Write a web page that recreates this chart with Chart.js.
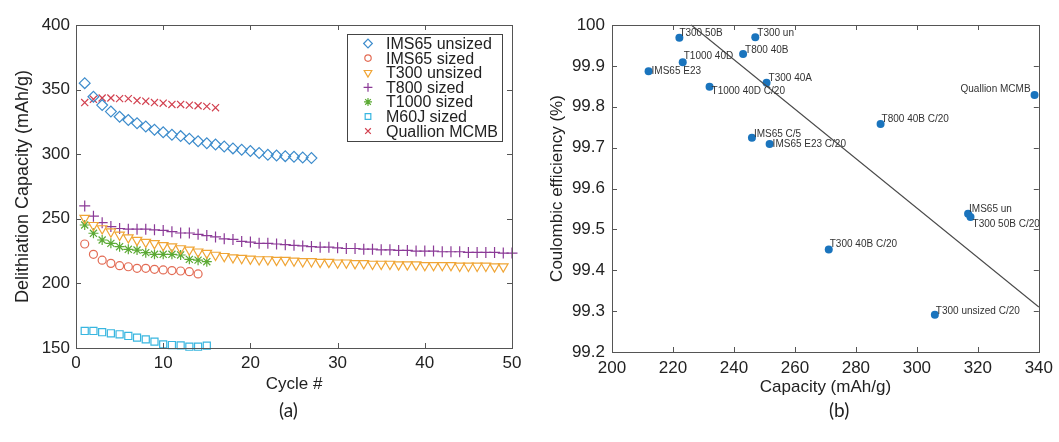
<!DOCTYPE html>
<html>
<head>
<meta charset="utf-8">
<script src="https://cdn.jsdelivr.net/npm/chart.js@4.4.1/dist/chart.umd.min.js"></script>
<style>
  html, body { margin: 0; padding: 0; background: #fff; }
  #wrap { position: relative; width: 1059px; height: 442px; overflow: hidden; }
  #c1 { position: absolute; left: 0; top: 0; }
  #c2 { position: absolute; left: 530px; top: 0; }
  .cap { position: absolute; top: 398px; font-family: Lato, "Open Sans", sans-serif; font-size: 19px; color: #222; }
</style>
</head>
<body>
<div id="wrap">
  <canvas id="c1" width="530" height="442"></canvas>
  <canvas id="c2" width="529" height="442"></canvas>
  <div class="cap" style="left:279px">(a)</div>
  <div class="cap" style="left:829px">(b)</div>
</div>
<script>
// ---------- Panel (a) data ----------
const cycleNumbers = [1,2,3,4,5,6,7,8,9,10,11,12,13,14,15,16,17,18,19,20,21,22,23,24,25,
  26,27,28,29,30,31,32,33,34,35,36,37,38,39,40,41,42,43,44,45,46,47,48,49,50];
const ims65Unsized = [355, 344.5, 338, 333, 329, 326.5, 324, 321.5, 319, 317, 315, 314, 312, 310, 308.5,
  307.5, 306, 304.5, 303.5, 302.5, 301, 299.5, 299, 298.5, 298, 297.5, 297];
const ims65Sized = [230.5, 222.5, 218, 215.5, 213.7, 212.9, 211.7, 211.7, 210.9, 210.4, 209.9, 209.6, 209.1, 207.3];
const t300Unsized = [250.5, 245, 242.5, 240, 237.5, 235.5, 233.5, 232, 231, 229.5, 228.5, 227, 226, 224.5, 223.5,
  222, 221, 220, 219.5, 219, 218.5, 218.5, 218, 218, 217.5, 217, 217, 216.5, 216.5, 216, 216, 215.5, 215.5,
  215, 215, 215, 214.5, 214.5, 214.5, 214, 214, 214, 214, 213.5, 213.5, 213.5, 213.5, 213, 213];
const t800Sized = [260, 252, 247, 244, 242.5, 242, 242, 242, 241.5, 241, 240, 239, 239, 238, 237, 236, 234.5,
  234, 232.5, 232, 231, 231, 230.5, 230, 229.5, 229, 228.5, 228, 228, 227.5, 227, 227, 226.5, 226.5, 226, 226,
  225.5, 225.5, 225, 225, 225, 224.5, 224.5, 224.5, 224, 224, 224, 224, 223.5, 223.5];
const t1000Sized = [245.2, 238.8, 233.6, 231, 228.4, 226.4, 225.8, 223.8, 222.5, 222.5, 222.5, 222, 218.6, 218, 216.8];
const m60jSized = [163.2, 163.2, 162.2, 161.4, 160.6, 159.3, 158, 156.7, 154.9, 152.8, 152.3, 152, 151, 151, 151.8];
const quallionMCMB = [340, 342.5, 343.5, 343.5, 343, 343, 341.5, 341, 340, 339.5, 338.5, 338.5, 338, 337.5, 337, 336];
const seriesNamesA = ["IMS65 unsized", "IMS65 sized", "T300 unsized", "T800 sized", "T1000 sized", "M60J sized", "Quallion MCMB"];
const xTicksA = [0, 10, 20, 30, 40, 50];
const yTicksA = [150, 200, 250, 300, 350, 400];

// ---------- Panel (b) data ----------
const pointNames = ["T300 50B", "T300 un", "T800 40B", "T1000 40D", "IMS65 E23", "T1000 40D C/20", "T300 40A",
  "IMS65 C/5", "IMS65 E23 C/20", "T800 40B C/20", "Quallion MCMB", "IMS65 un", "T300 50B C/20",
  "T300 40B C/20", "T300 unsized C/20"];
const capacity = [222.1, 247, 243, 223.2, 212, 232, 250.7, 245.9, 251.7, 288.1, 338.6, 316.8, 317.6, 271.1, 305.9];
const efficiency = [99.969, 99.97, 99.929, 99.909, 99.887, 99.849, 99.859, 99.724, 99.709, 99.758, 99.829, 99.538, 99.530, 99.451, 99.291];
const trendX = [226, 340];
const trendY = [100.0, 99.31];
const xTicksB = [200, 220, 240, 260, 280, 300, 320, 340];
const yTicksB = [99.2, 99.3, 99.4, 99.5, 99.6, 99.7, 99.8, 99.9, 100];

// ---------- styles ----------
const FONT = '"Liberation Sans", Arial, sans-serif';
const styleA = [
  { color: '#3d8ccc', pointStyle: 'rectRot', radius: 5.4, rotation: 0 },
  { color: '#e36c55', pointStyle: 'circle', radius: 4, rotation: 0 },
  { color: '#f0a535', pointStyle: 'triangle', radius: 5.5, rotation: 180 },
  { color: '#8b3a97', pointStyle: 'cross', radius: 5.5, rotation: 0 },
  { color: '#5caa35', pointStyle: 'star', radius: 5, rotation: 0 },
  { color: '#38b6e0', pointStyle: 'rect', radius: 5, rotation: 0 },
  { color: '#d2404f', pointStyle: 'crossRot', radius: 5, rotation: 0 }
];
// label offsets (dx, dy, align) for point annotations in panel (b)
const labelPlacement = {
  "T300 50B": [0, -4, 'left'], "T300 un": [2, -4, 'left'], "T800 40B": [2, -4, 'left'],
  "T1000 40D": [1, -6, 'left'], "IMS65 E23": [3, 0, 'left'], "T1000 40D C/20": [2, 5, 'left'],
  "T300 40A": [2, -4, 'left'], "IMS65 C/5": [2, -4, 'left'], "IMS65 E23 C/20": [3, 0, 'left'],
  "T800 40B C/20": [1, -5, 'left'], "Quallion MCMB": [-4, -6, 'right'], "IMS65 un": [1, -5, 'left'],
  "T300 50B C/20": [2, 7, 'left'], "T300 40B C/20": [1, -5, 'left'], "T300 unsized C/20": [1, -4, 'left']
};

function frameTicks(tickValsX, tickValsY, len) {
  return {
    id: 'frameTicks',
    afterDatasetsDraw(chart) {
      const { ctx, chartArea: a, scales } = chart;
      const xs = scales.x, ys = scales.y;
      ctx.save();
      ctx.strokeStyle = '#555';
      ctx.lineWidth = 1;
      ctx.beginPath();
      tickValsX.forEach(v => {
        const px = Math.round(xs.getPixelForValue(v)) + 0.5;
        ctx.moveTo(px, a.bottom); ctx.lineTo(px, a.bottom - len);
        ctx.moveTo(px, a.top); ctx.lineTo(px, a.top + len);
      });
      tickValsY.forEach(v => {
        const py = Math.round(ys.getPixelForValue(v)) + 0.5;
        ctx.moveTo(a.left, py); ctx.lineTo(a.left + len, py);
        ctx.moveTo(a.right, py); ctx.lineTo(a.right - len, py);
      });
      ctx.stroke();
      ctx.strokeRect(Math.round(a.left) + 0.5, Math.round(a.top) + 0.5, Math.round(a.right - a.left), Math.round(a.bottom - a.top));
      ctx.restore();
    }
  };
}

const legendA = {
  id: 'legendA',
  afterDraw(chart) {
    const { ctx } = chart;
    const bx = 347, by = 34, bw = 155, bh = 107;
    ctx.save();
    ctx.fillStyle = '#fff';
    ctx.fillRect(bx, by, bw, bh);
    ctx.strokeStyle = '#444';
    ctx.lineWidth = 1;
    ctx.strokeRect(bx + 0.5, by + 0.5, bw, bh);
    ctx.font = '16px ' + FONT;
    ctx.textBaseline = 'middle';
    ctx.textAlign = 'left';
    seriesNamesA.forEach((name, i) => {
      const y = 43.5 + i * 14.6;
      const s = styleA[i];
      ctx.strokeStyle = s.color;
      ctx.fillStyle = 'rgba(0,0,0,0)';
      ctx.lineWidth = 1.2;
      Chart.helpers.drawPoint(ctx, { pointStyle: s.pointStyle, radius: s.radius * 0.8, rotation: s.rotation, borderWidth: 1.2 }, 368, y);
      ctx.fillStyle = '#222';
      ctx.fillText(name, 386, y + 1);
    });
    ctx.restore();
  }
};

const pointLabels = {
  id: 'pointLabels',
  afterDatasetsDraw(chart) {
    const { ctx, scales } = chart;
    ctx.save();
    ctx.font = '10px ' + FONT;
    ctx.fillStyle = '#333';
    ctx.textBaseline = 'middle';
    pointNames.forEach((name, i) => {
      const p = labelPlacement[name];
      const px = scales.x.getPixelForValue(capacity[i]);
      const py = scales.y.getPixelForValue(efficiency[i]);
      ctx.textAlign = p[2];
      ctx.fillText(name, px + p[0], py + p[1]);
    });
    ctx.restore();
  }
};

// ---------- Chart (a) ----------
const seriesA = [ims65Unsized, ims65Sized, t300Unsized, t800Sized, t1000Sized, m60jSized, quallionMCMB];
new Chart(document.getElementById('c1'), {
  type: 'scatter',
  data: {
    datasets: seriesA.map((arr, i) => ({
      label: seriesNamesA[i],
      data: arr.map((v, j) => ({ x: cycleNumbers[j], y: v })),
      pointStyle: styleA[i].pointStyle,
      pointRadius: styleA[i].radius,
      pointRotation: styleA[i].rotation,
      borderColor: styleA[i].color,
      backgroundColor: 'rgba(0,0,0,0)',
      borderWidth: 1.2,
      showLine: false,
      clip: false
    }))
  },
  options: {
    responsive: false,
    animation: false,
    events: [],
    layout: { padding: { left: 0, right: 18, top: 25, bottom: 34 } },
    plugins: { legend: { display: false }, tooltip: { enabled: false } },
    scales: {
      x: {
        type: 'linear', min: 0, max: 50,
        afterFit: s => { s.height = 60; },
        afterBuildTicks: s => { s.ticks = xTicksA.map(v => ({ value: v })); },
        grid: { display: false, drawTicks: false },
        border: { display: false },
        ticks: { color: '#222', font: { size: 17, family: FONT }, padding: 5 },
        title: { display: true, text: 'Cycle #', color: '#222', font: { size: 17, family: FONT }, padding: { top: 0, bottom: 13 } }
      },
      y: {
        type: 'linear', min: 150, max: 400,
        afterFit: s => { s.width = 76; },
        afterBuildTicks: s => { s.ticks = yTicksA.map(v => ({ value: v })); },
        grid: { display: false, drawTicks: false },
        border: { display: false },
        ticks: { color: '#222', font: { size: 17, family: FONT }, padding: 6 },
        title: { display: true, text: 'Delithiation Capacity (mAh/g)', color: '#222', font: { size: 18, family: FONT }, padding: { top: 12, bottom: 0 } }
      }
    }
  },
  plugins: [frameTicks(xTicksA, yTicksA, 5), legendA]
});

// ---------- Chart (b) ----------
new Chart(document.getElementById('c2'), {
  type: 'scatter',
  data: {
    datasets: [
      {
        label: 'Trend',
        type: 'line',
        data: trendX.map((v, i) => ({ x: v, y: trendY[i] })),
        borderColor: '#4a4a4a',
        borderWidth: 1.1,
        pointRadius: 0,
        fill: false,
        clip: false
      },
      {
        label: 'Samples',
        data: capacity.map((v, i) => ({ x: v, y: efficiency[i] })),
        pointStyle: 'circle',
        pointRadius: 4,
        backgroundColor: '#1a74bd',
        borderColor: '#1a74bd',
        borderWidth: 0,
        clip: false
      }
    ]
  },
  options: {
    responsive: false,
    animation: false,
    events: [],
    layout: { padding: { left: 0, right: 16, top: 25, bottom: 30 } },
    plugins: { legend: { display: false }, tooltip: { enabled: false } },
    scales: {
      x: {
        type: 'linear', min: 200, max: 340,
        afterFit: s => { s.height = 60; },
        afterBuildTicks: s => { s.ticks = xTicksB.map(v => ({ value: v })); },
        grid: { display: false, drawTicks: false },
        border: { display: false },
        ticks: { color: '#222', font: { size: 17, family: FONT }, padding: 6 },
        title: { display: true, text: 'Capacity (mAh/g)', color: '#222', font: { size: 17, family: FONT }, padding: { top: 0, bottom: 14 } }
      },
      y: {
        type: 'linear', min: 99.2, max: 100,
        afterFit: s => { s.width = 82; },
        afterBuildTicks: s => { s.ticks = yTicksB.map(v => ({ value: v })); },
        grid: { display: false, drawTicks: false },
        border: { display: false },
        ticks: {
          color: '#222', font: { size: 17, family: FONT }, padding: 7,
          callback: v => String(Number(v.toFixed(1)))
        },
        title: { display: true, text: 'Coulombic efficiency (%)', color: '#222', font: { size: 17, family: FONT }, padding: { top: 17, bottom: 0 } }
      }
    }
  },
  plugins: [frameTicks(xTicksB, yTicksB, 5), pointLabels]
});
</script>
</body>
</html>
